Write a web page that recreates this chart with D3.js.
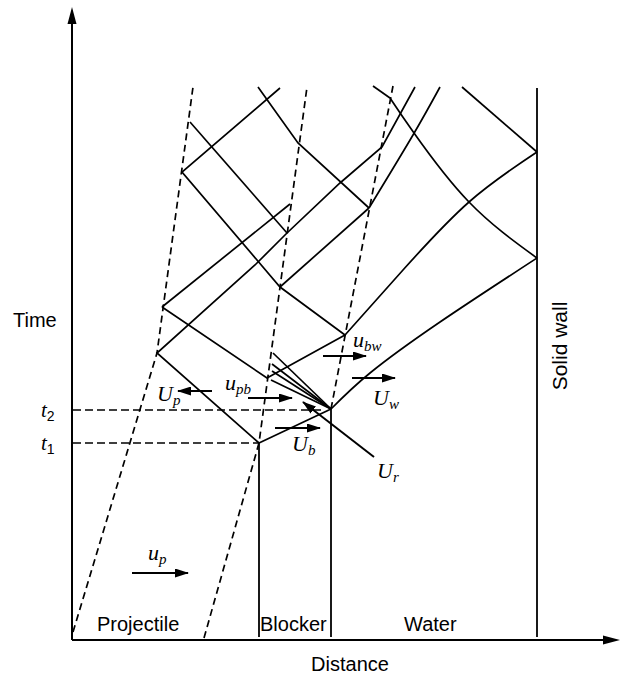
<!DOCTYPE html>
<html>
<head>
<meta charset="utf-8">
<script src="https://cdn.jsdelivr.net/npm/d3@7"></script>
<style>
  body { margin: 0; background: #fff; }
</style>
</head>
<body>
<script>
// everything in diagram units: distance from the time axis, time above the distance axis
var tImpact = 197;   // t1, projectile hits blocker
var tBlocker = 230;  // t2, shock reaches the water

// material boundaries (solid verticals) : x, from t, to t
var boundaries = [
  {x: 187, from: 3, to: 197},
  {x: 259, from: 3, to: 231},
  {x: 465, from: 3, to: 552}
];

// particle paths (dashed)
var rearPath = [[1, 8], [85, 287], [121, 553]];
var frontPath = [[132, 2], [187, 197], [235, 553]];
var interfacePath = [[259, 231], [321, 554]];

// time marks on the axis
var timeMarks = [
  {sub: "2", t: tBlocker, end: 253},
  {sub: "1", t: tImpact, end: 187}
];

// waves with kinks, straight pieces
var straightWaves = [
  [[187, 197], [85, 287], [183, 375], [215, 407], [268, 457], [310, 493], [343, 553]],
  [[187, 197], [259, 231]],
  [[90, 333], [218, 436]],
  [[208, 552], [110, 468], [208, 353], [273, 305]],
  [[118, 518], [215, 407]],
  [[208, 353], [297, 432]],
  [[297, 432], [226, 497], [186, 553]],
  [[90, 333], [195, 262], [273, 305]],
  [[465, 488], [390, 553]],
  [[318, 542], [301, 554]]
];
// bent waves (shock into water, wall reflections)
var curvedWaves = [
  [[259, 231], [298, 267], [368, 318], [465, 382]],
  [[465, 382], [397, 438], [342, 507], [318, 542]],
  [[273, 305], [331, 370], [397, 438], [465, 488]],
  [[297, 432], [341, 505], [368, 553]]
];
// rarefaction fan from the blocker / water point
var fanOrigin = [259, 231];
var fanEnds = [[201, 287], [200, 276], [200, 269], [199, 260]];

// velocity arrows and their symbols
var arrows = [
  {name: "u", sub: "p",  x0: 60,  x1: 116, t0: 67,  t1: 67,  lx: 76,  lt: 80},
  {name: "U", sub: "p",  x0: 140, x1: 106, t0: 249, t1: 249, lx: 85,  lt: 239},
  {name: "u", sub: "pb", x0: 176, x1: 220, t0: 242, t1: 242, lx: 153, lt: 250},
  {name: "U", sub: "b",  x0: 203, x1: 248, t0: 212, t1: 212, lx: 220, lt: 189},
  {name: "u", sub: "bw", x0: 251, x1: 294, t0: 284, t1: 284, lx: 281, lt: 293},
  {name: "U", sub: "w",  x0: 280, x1: 323, t0: 262, t1: 262, lx: 301, lt: 235},
  {name: "U", sub: "r",  x0: 302, x1: 231, t0: 183, t1: 238, lx: 305, lt: 162}
];

var regions = [
  {name: "Projectile", x: 25},
  {name: "Blocker", x: 188},
  {name: "Water", x: 332}
];

var width = 620, height = 678;
var svg = d3.select("body").append("svg")
  .attr("width", width)
  .attr("height", height);

var x = d3.scaleLinear().domain([0, 548]).range([72, 620]);
var y = d3.scaleLinear().domain([0, 633]).range([640, 7]);

var sans = "'Liberation Sans', Arial, Helvetica, sans-serif";
var serif = "'Liberation Serif', 'Times New Roman', serif";

var defs = svg.append("defs");
defs.append("marker")
  .attr("id", "head")
  .attr("viewBox", "0 0 14 9")
  .attr("refX", 13)
  .attr("refY", 4.5)
  .attr("markerWidth", 14)
  .attr("markerHeight", 9)
  .attr("markerUnits", "userSpaceOnUse")
  .attr("orient", "auto")
  .append("path")
  .attr("d", "M0,0 L14,4.5 L0,9 Z")
  .attr("fill", "black");

var line = d3.line()
  .x(function(d) { return x(d[0]); })
  .y(function(d) { return y(d[1]); });
var smooth = d3.line()
  .x(function(d) { return x(d[0]); })
  .y(function(d) { return y(d[1]); })
  .curve(d3.curveNatural);

// axes
svg.append("line")
  .attr("x1", x(0)).attr("y1", y(0))
  .attr("x2", x(0)).attr("y2", y(618))
  .attr("stroke", "black").attr("stroke-width", 2);
svg.append("path")
  .attr("d", "M" + x(0) + "," + y(633) + " L" + (x(0) - 4.5) + "," + y(616) + " L" + (x(0) + 4.5) + "," + y(616) + " Z")
  .attr("fill", "black");
svg.append("line")
  .attr("x1", x(0)).attr("y1", y(0))
  .attr("x2", x(533)).attr("y2", y(0))
  .attr("stroke", "black").attr("stroke-width", 2);
svg.append("path")
  .attr("d", "M" + x(548) + "," + y(0) + " L" + x(531) + "," + (y(0) - 4.5) + " L" + x(531) + "," + (y(0) + 4.5) + " Z")
  .attr("fill", "black");

// boundaries
svg.selectAll(".boundary")
  .data(boundaries)
  .enter().append("line")
  .attr("class", "boundary")
  .attr("x1", function(d) { return x(d.x); })
  .attr("x2", function(d) { return x(d.x); })
  .attr("y1", function(d) { return y(d.from); })
  .attr("y2", function(d) { return y(d.to); })
  .attr("stroke", "black")
  .attr("stroke-width", 1.8);

// dashed particle paths
svg.selectAll(".particle")
  .data([rearPath, frontPath, interfacePath])
  .enter().append("path")
  .attr("class", "particle")
  .attr("d", line)
  .attr("fill", "none")
  .attr("stroke", "black")
  .attr("stroke-width", 1.7)
  .attr("stroke-dasharray", "7,4.5");

// t1, t2 guides
svg.selectAll(".tmark")
  .data(timeMarks)
  .enter().append("line")
  .attr("class", "tmark")
  .attr("x1", x(1))
  .attr("x2", function(d) { return x(d.end); })
  .attr("y1", function(d) { return y(d.t); })
  .attr("y2", function(d) { return y(d.t); })
  .attr("stroke", "black")
  .attr("stroke-width", 1.6)
  .attr("stroke-dasharray", "8,4");

var tlab = svg.selectAll(".tlab")
  .data(timeMarks)
  .enter().append("text")
  .attr("class", "tlab")
  .attr("x", 41)
  .attr("y", function(d) { return y(d.t) + 7; });
tlab.append("tspan")
  .attr("font-family", serif)
  .attr("font-style", "italic")
  .attr("font-size", "21px")
  .text("t");
tlab.append("tspan")
  .attr("font-family", sans)
  .attr("font-size", "14px")
  .attr("dy", 4)
  .text(function(d) { return d.sub; });

// waves
svg.selectAll(".wave")
  .data(straightWaves)
  .enter().append("path")
  .attr("class", "wave")
  .attr("d", line)
  .attr("fill", "none")
  .attr("stroke", "black")
  .attr("stroke-width", 1.7)
  .attr("stroke-linejoin", "miter");

svg.selectAll(".bent")
  .data(curvedWaves)
  .enter().append("path")
  .attr("class", "bent")
  .attr("d", smooth)
  .attr("fill", "none")
  .attr("stroke", "black")
  .attr("stroke-width", 1.7);

svg.selectAll(".fan")
  .data(fanEnds)
  .enter().append("line")
  .attr("class", "fan")
  .attr("x1", x(fanOrigin[0]))
  .attr("y1", y(fanOrigin[1]))
  .attr("x2", function(d) { return x(d[0]); })
  .attr("y2", function(d) { return y(d[1]); })
  .attr("stroke", "black")
  .attr("stroke-width", 1.7);

// velocity arrows
svg.selectAll(".arrow")
  .data(arrows)
  .enter().append("line")
  .attr("class", "arrow")
  .attr("x1", function(d) { return x(d.x0); })
  .attr("y1", function(d) { return y(d.t0); })
  .attr("x2", function(d) { return x(d.x1); })
  .attr("y2", function(d) { return y(d.t1); })
  .attr("stroke", "black")
  .attr("stroke-width", 2)
  .attr("marker-end", "url(#head)");

var sym = svg.selectAll(".sym")
  .data(arrows)
  .enter().append("text")
  .attr("class", "sym")
  .attr("x", function(d) { return x(d.lx); })
  .attr("y", function(d) { return y(d.lt); })
  .attr("font-family", serif)
  .attr("font-style", "italic");
sym.append("tspan")
  .attr("font-size", "22px")
  .text(function(d) { return d.name; });
sym.append("tspan")
  .attr("font-size", "15px")
  .attr("dy", 4)
  .text(function(d) { return d.sub; });

// region names
svg.selectAll(".region")
  .data(regions)
  .enter().append("text")
  .attr("class", "region")
  .attr("x", function(d) { return x(d.x); })
  .attr("y", y(9))
  .attr("font-family", sans)
  .attr("font-size", "20px")
  .text(function(d) { return d.name; });

svg.append("text")
  .attr("x", x(278))
  .attr("y", 671)
  .attr("text-anchor", "middle")
  .attr("font-family", sans)
  .attr("font-size", "20px")
  .text("Distance");

svg.append("text")
  .attr("x", 13)
  .attr("y", y(313))
  .attr("font-family", sans)
  .attr("font-size", "20px")
  .text("Time");

svg.append("text")
  .attr("transform", "translate(567," + y(294) + ") rotate(-90)")
  .attr("text-anchor", "middle")
  .attr("font-family", sans)
  .attr("font-size", "21px")
  .text("Solid wall");
</script>
</body>
</html>
